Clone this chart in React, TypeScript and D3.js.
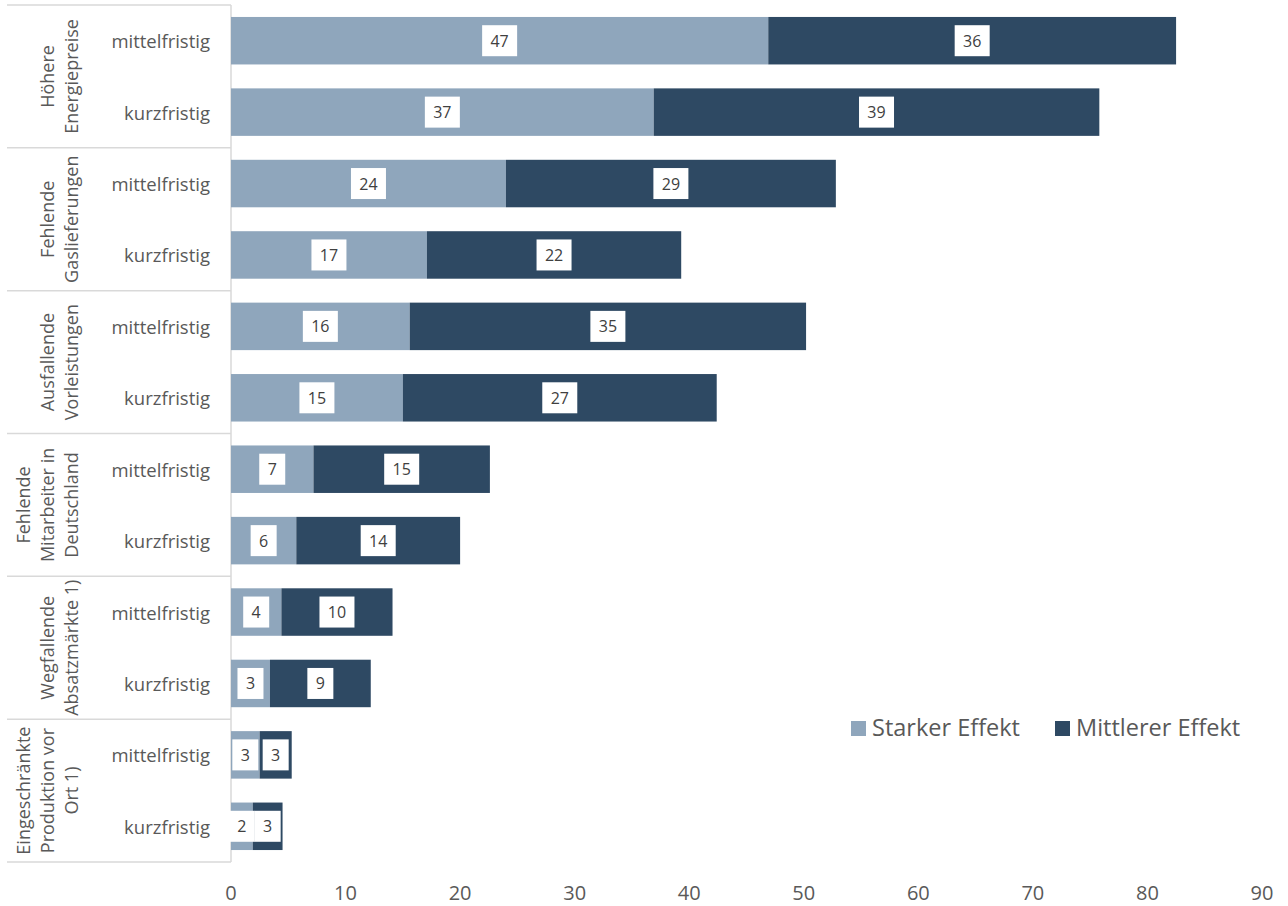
import { useEffect } from "react";
import * as d3 from "d3";

// groups (top to bottom), each split into lines of the rotated label
const groups = [
  ["Höhere", "Energiepreise"],
  ["Fehlende", "Gaslieferungen"],
  ["Ausfallende", "Vorleistungen"],
  ["Fehlende", "Mitarbeiter in", "Deutschland"],
  ["Wegfallende", "Absatzmärkte 1)"],
  ["Eingeschränkte", "Produktion vor", "Ort 1)"],
];
const horizons = ["mittelfristig", "kurzfristig"];

// one value per row, rows in order: group 1 mittel, group 1 kurz, group 2 mittel, ...
const starkerEffekt = [46.9, 36.9, 24.0, 17.1, 15.6, 15.0, 7.2, 5.7, 4.4, 3.4, 2.5, 1.9];
const mittlererEffekt = [35.6, 38.9, 28.8, 22.2, 34.6, 27.4, 15.4, 14.3, 9.7, 8.8, 2.8, 2.6];

const xTicks = [0, 10, 20, 30, 40, 50, 60, 70, 80, 90];
const seriesNames = ["Starker Effekt", "Mittlerer Effekt"];

const colors = ["#8FA6BC", "#2E4963"];
const font = "'Open Sans', sans-serif";

const W = 1288;
const H = 906;

export default function App() {
  useEffect(() => {
    document.body.style.margin = "0";
  }, []);

  const rows = groups.flatMap((g, gi) => horizons.map((h) => `${gi}-${h}`));

  const x = d3.scaleLinear().domain([0, 90]).range([231, 1262]);
  const y = d3
    .scaleBand<string>()
    .domain(rows)
    .range([5, 862])
    .paddingInner(0.335)
    .paddingOuter(0.1675);

  const stack = rows.map((r, i) => {
    const s = starkerEffekt[i];
    const m = mittlererEffekt[i];
    return [
      { key: r, x0: 0, x1: s, v: s },
      { key: r, x0: s, x1: s + m, v: m },
    ];
  });

  const step = y.step();
  const top = y.range()[0];

  return (
    <svg width={W} height={H} style={{ display: "block", fontFamily: font }}>
      {/* group separators */}
      {d3.range(groups.length + 1).map((k) => (
        <line
          key={"sep" + k}
          x1={7}
          x2={231}
          y1={top + k * 2 * step}
          y2={top + k * 2 * step}
          stroke="#D9D9D9"
          strokeWidth={1.5}
        />
      ))}
      <line x1={231} x2={231} y1={top} y2={862} stroke="#D9D9D9" strokeWidth={1.5} />

      {/* group labels */}
      {groups.map((lines, gi) => {
        const cy = top + (gi * 2 + 1) * step;
        return (
          <g key={"g" + gi}>
            {lines.map((ln, li) => {
              const bx = 78 - 24 * (lines.length - 1 - li);
              return (
                <text
                  key={li}
                  transform={`translate(${bx},${cy}) rotate(-90)`}
                  textAnchor="middle"
                  fontSize={18}
                  fill="#595959"
                >
                  {ln}
                </text>
              );
            })}
          </g>
        );
      })}

      {/* row labels */}
      {rows.map((r, i) => (
        <text
          key={"rl" + r}
          x={210}
          y={(y(r) as number) + y.bandwidth() / 2}
          textAnchor="end"
          dominantBaseline="central"
          fontSize={18.5}
          fill="#595959"
        >
          {horizons[i % 2]}
        </text>
      ))}

      {/* bars */}
      {stack.map((segs, i) =>
        segs.map((d, si) => (
          <rect
            key={`b${i}-${si}`}
            x={x(d.x0)}
            y={y(d.key)}
            width={x(d.x1) - x(d.x0)}
            height={y.bandwidth()}
            fill={colors[si]}
          />
        ))
      )}

      {/* value labels */}
      {stack.map((segs, i) =>
        segs.map((d, si) => {
          const label = String(Math.round(d.v));
          const bw = label.length > 1 ? 35 : 26;
          const cx = (x(d.x0) + x(d.x1)) / 2;
          const cy = (y(d.key) as number) + y.bandwidth() / 2;
          return (
            <g key={`l${i}-${si}`}>
              <rect x={cx - bw / 2} y={cy - 15.5} width={bw} height={31} fill="#FFFFFF" />
              <text
                x={cx}
                y={cy}
                textAnchor="middle"
                dominantBaseline="central"
                fontSize={16}
                fill="#404040"
              >
                {label}
              </text>
            </g>
          );
        })
      )}

      {/* x axis tick labels */}
      {xTicks.map((t) => (
        <text
          key={"t" + t}
          x={x(t)}
          y={900}
          textAnchor="middle"
          fontSize={20}
          fill="#595959"
        >
          {t}
        </text>
      ))}

      {/* legend */}
      {seriesNames.map((name, i) => {
        const lx = [851, 1055][i];
        return (
          <g key={"leg" + i}>
            <rect x={lx} y={721} width={15} height={15} fill={colors[i]} />
            <text x={lx + 21} y={735.5} fontSize={23.5} fill="#595959">
              {name}
            </text>
          </g>
        );
      })}
    </svg>
  );
}
